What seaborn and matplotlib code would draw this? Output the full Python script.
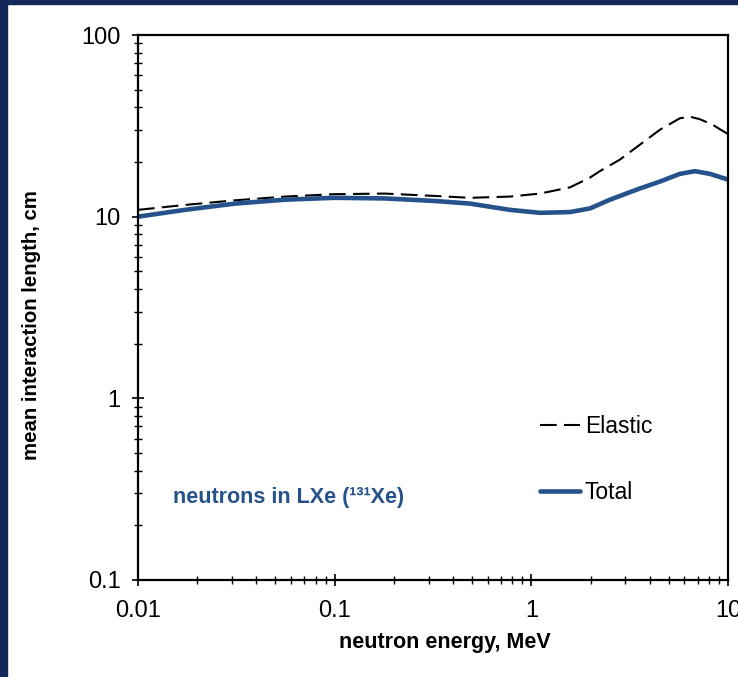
import numpy as np
import pandas as pd
import matplotlib
matplotlib.use("Agg")
import matplotlib.pyplot as plt
import matplotlib.ticker as mticker
from matplotlib.patches import Rectangle
import seaborn as sns

# ---- data ----
total_energy = [0.01, 0.0173, 0.0311, 0.0559, 0.1, 0.18, 0.324, 0.488, 0.778, 1.106,
                1.572, 1.986, 2.51, 2.82, 3.565, 4.507, 5.69, 6.79, 8.09, 10.0]
total_length = [10.0, 10.9, 11.8, 12.4, 12.7, 12.6, 12.2, 11.8, 10.9, 10.5,
                10.6, 11.1, 12.4, 13.0, 14.3, 15.6, 17.2, 17.8, 17.2, 16.0]

elastic_energy = [0.01, 0.0173, 0.0311, 0.0559, 0.1, 0.18, 0.324, 0.488, 0.778, 1.106,
                  1.572, 1.986, 2.23, 2.82, 3.565, 4.507, 5.69, 6.4, 7.19, 8.38, 9.42, 10.0]
elastic_length = [10.9, 11.6, 12.3, 12.9, 13.3, 13.4, 13.0, 12.7, 12.9, 13.4,
                  14.5, 16.4, 17.8, 20.6, 24.9, 30.1, 34.8, 35.5, 34.4, 32.0, 29.6, 28.5]

x_ticks = [0.01, 0.1, 1, 10]
x_tick_labels = ["0.01", "0.1", "1", "10"]
y_ticks = [0.1, 1, 10, 100]
y_tick_labels = ["0.1", "1", "10", "100"]

df = pd.concat([
    pd.DataFrame({"energy": elastic_energy, "length": elastic_length, "series": "Elastic"}),
    pd.DataFrame({"energy": total_energy, "length": total_length, "series": "Total"}),
], ignore_index=True)

sns.set_style("ticks")
plt.rcParams["font.family"] = ["Liberation Sans", "DejaVu Sans"]
plt.rcParams["text.color"] = "black"
plt.rcParams["axes.labelcolor"] = "black"
plt.rcParams["xtick.color"] = "black"
plt.rcParams["ytick.color"] = "black"

BLUE = "#26528c"
NAVY = "#13275a"

fig = plt.figure(figsize=(7.38, 6.77), dpi=100)
ax = fig.add_axes([138 / 738, 1 - 580 / 677, (728 - 138) / 738, (580 - 35) / 677])

sns.lineplot(data=df[df.series == "Elastic"], x="energy", y="length", ax=ax,
             color="black", linewidth=1.5, label="Elastic", estimator=None, sort=True)
ax.lines[-1].set_dashes([8, 3.5])
sns.lineplot(data=df[df.series == "Total"], x="energy", y="length", ax=ax,
             color=BLUE, linewidth=3.3, label="Total", estimator=None, sort=True)
for ln in ax.lines:
    ln.set_solid_joinstyle("round")
    ln.set_dash_joinstyle("round")

ax.set_xscale("log")
ax.set_yscale("log")
ax.set_xlim(0.01, 10)
ax.set_ylim(0.1, 100)
ax.set_xticks(x_ticks)
ax.set_xticklabels(x_tick_labels)
ax.set_yticks(y_ticks)
ax.set_yticklabels(y_tick_labels)
ax.xaxis.set_minor_locator(mticker.LogLocator(base=10, subs=np.arange(2, 10)))
ax.yaxis.set_minor_locator(mticker.LogLocator(base=10, subs=np.arange(2, 10)))
ax.xaxis.set_minor_formatter(mticker.NullFormatter())
ax.yaxis.set_minor_formatter(mticker.NullFormatter())

ax.tick_params(which="major", direction="inout", length=9, width=1.2, labelsize=17, pad=8,
               colors="black", labelcolor="black")
ax.tick_params(which="minor", direction="inout", length=6, width=1.0, colors="black")
ax.tick_params(axis="x", which="major", pad=10)

for s in ax.spines.values():
    s.set_visible(True)
    s.set_linewidth(1.6)
    s.set_color("black")

ax.set_xlabel("neutron energy, MeV", fontsize=15.5, fontweight="bold", color="black")
ax.set_ylabel("mean interaction length, cm", fontsize=14.7, fontweight="bold", color="black")
ax.xaxis.set_label_coords(0.52, -0.095)
ax.yaxis.set_label_coords(-0.165, 0.468)

ax.text(0.06, 0.151, "neutrons in LXe (¹³¹Xe)", transform=ax.transAxes,
        color=BLUE, fontsize=15.5, fontweight="bold", va="center", ha="left")

leg = ax.legend(loc="upper left", bbox_to_anchor=(0.681, 0.303), frameon=False,
                fontsize=16.5, handlelength=1.75, handletextpad=0.22, labelspacing=1.9,
                borderaxespad=0, borderpad=0)
for t in leg.get_texts():
    t.set_color("black")

# navy frame on left and top like the slide background
fig.patches.append(Rectangle((0, 0), 7 / 738, 1, transform=fig.transFigure, color=NAVY, zorder=10))
fig.patches.append(Rectangle((0, 1 - 4 / 677), 1, 4 / 677, transform=fig.transFigure, color=NAVY, zorder=10))

fig.savefig("out.png", dpi=100)
